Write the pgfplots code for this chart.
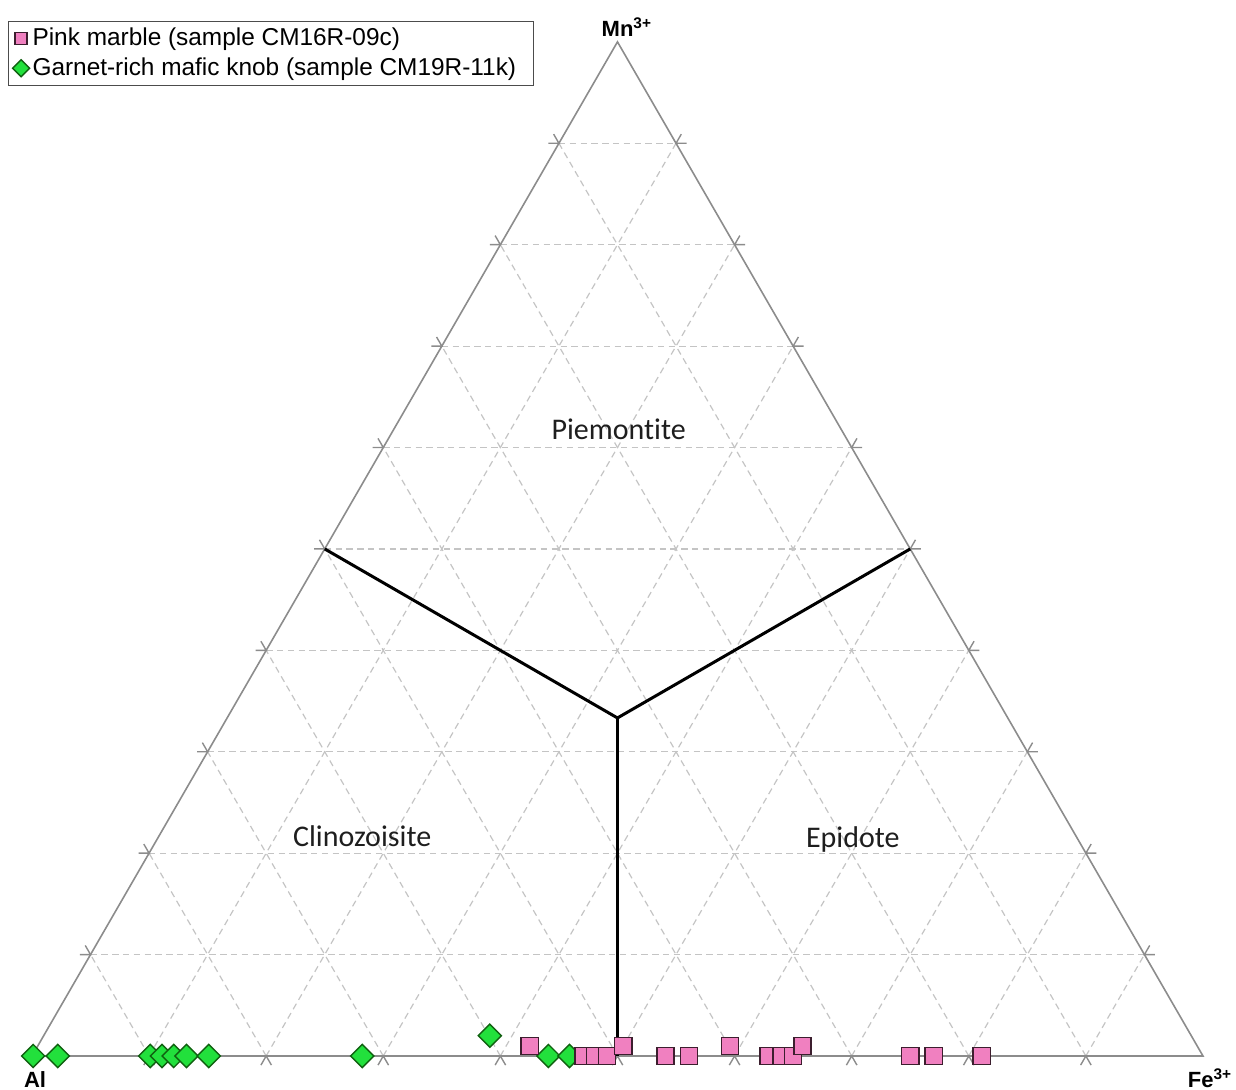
\documentclass[border=0pt]{standalone}
\usepackage{pgfplots}
\pgfplotsset{compat=1.18}
\usepackage{pgfplotstable}
\usepackage{fontspec}
\setmainfont{Liberation Sans}
\newfontfamily\calibri[Ligatures=NoCommon]{Carlito}

\definecolor{pinkfill}{RGB}{240,128,192}
\definecolor{pinkedge}{RGB}{60,30,46}
\definecolor{greenfill}{RGB}{34,224,60}
\definecolor{greenedge}{RGB}{16,96,16}
\definecolor{edgegray}{RGB}{140,140,140}
\definecolor{gridgray}{RGB}{196,196,196}
\definecolor{labelgray}{RGB}{30,30,30}

\tikzset{
  gridline/.style={gridgray, line width=0.6pt, dash pattern=on 3.2pt off 2.2pt},
  tickline/.style={edgegray, line width=0.7pt},
  fieldname/.style={font=\calibri\fontsize{15}{17}\selectfont, text=labelgray},
  apexname/.style={font=\bfseries\fontsize{11}{12}\selectfont, anchor=base, inner sep=0pt},
}

% Epidote-group compositions as Fe3+ and Mn3+ fractions (Al = 1 - Fe - Mn)
\pgfplotstableread{
Fe    Mn
0.420 0.010
0.471 0.000
0.481 0.000
0.491 0.000
0.500 0.010
0.541 0.000
0.561 0.000
0.591 0.010
0.629 0.000
0.640 0.000
0.650 0.000
0.653 0.010
0.750 0.000
0.770 0.000
0.811 0.000
}\pinkmarble

\pgfplotstableread{
Fe    Mn
0.001 0.000
0.022 0.000
0.101 0.000
0.111 0.000
0.121 0.000
0.132 0.000
0.151 0.000
0.282 0.000
0.381 0.020
0.441 0.000
0.459 0.000
}\mafickob

\begin{document}
\begin{tikzpicture}
\begin{axis}[
  x=585.5pt, y=585.5pt,
  xmin=-0.0273, xmax=1.0282, ymin=-0.029, ymax=0.9018,
  hide axis, clip=false,
  reverse legend,
  legend style={
    at={(axis cs:-0.0205,0.884)}, anchor=north west,
    draw=black!70, line width=0.6pt,
    font=\fontsize{12.2}{14.5}\selectfont,
    inner xsep=2pt, inner ysep=1pt,
    nodes={inner xsep=1.5pt, inner ysep=2.3pt},
    row sep=0pt,
  },
  legend cell align=left,
  legend image code/.code={%
    \draw[mark repeat=1,#1,mark size=3pt] plot coordinates {(0pt,0pt)};},
]

% dashed composition grid every 10 %
\pgfplotsinvokeforeach{1,2,3,4,5,6,7,8,9}{
  \draw[gridline] (axis cs:{#1*0.05},{#1*0.0866025}) -- (axis cs:{1-#1*0.05},{#1*0.0866025});
  \draw[gridline] (axis cs:{#1*0.1},0) -- (axis cs:{0.5+#1*0.05},{(10-#1)*0.0866025});
  \draw[gridline] (axis cs:{1-#1*0.1},0) -- (axis cs:{0.5-#1*0.05},{(10-#1)*0.0866025});
  % short outward ticks on the three sides
  \draw[tickline] (axis cs:{#1*0.1-0.0045},-0.0078) -- (axis cs:{#1*0.1},0) -- (axis cs:{#1*0.1+0.0045},-0.0078);
  \draw[tickline] (axis cs:{#1*0.05-0.009},{#1*0.0866025}) -- (axis cs:{#1*0.05},{#1*0.0866025}) -- (axis cs:{#1*0.05-0.0045},{#1*0.0866025+0.0078});
  \draw[tickline] (axis cs:{1-#1*0.05+0.009},{#1*0.0866025}) -- (axis cs:{1-#1*0.05},{#1*0.0866025}) -- (axis cs:{1-#1*0.05+0.0045},{#1*0.0866025+0.0078});
}

% triangle outline
\draw[edgegray, line width=0.8pt] (axis cs:0,0) -- (axis cs:1,0) -- (axis cs:0.5,0.8660254) -- cycle;

% field boundaries
\addplot[black, line width=1.5pt, forget plot] coordinates {(0.25,0.4330127) (0.5,0.2886751) (0.75,0.4330127)};
\addplot[black, line width=1.5pt, forget plot] coordinates {(0.5,0.2886751) (0.5,0)};

% field names
\node[fieldname] at (axis cs:0.501,0.535) {Piemontite};
\node[fieldname] at (axis cs:0.282,0.188) {Clinozoisite};
\node[fieldname] at (axis cs:0.701,0.1845) {Epidote};

% apex labels
\node[apexname] at (axis cs:0.508,0.871) {Mn\textsuperscript{3+}};
\node[apexname] at (axis cs:0.0026,-0.0265) {Al};
\node[apexname] at (axis cs:1.006,-0.0265) {Fe\textsuperscript{3+}};

% samples
\addplot[only marks, mark=square*, mark size=4.1pt,
  mark options={rotate=45, fill=greenfill, draw=greenedge, line width=0.7pt}]
  table[x expr=\thisrow{Fe}+0.5*\thisrow{Mn}, y expr=0.8660254*\thisrow{Mn}] {\mafickob};
\addlegendentry{Garnet-rich mafic knob (sample CM19R-11k)\hspace*{5pt}}

\addplot[only marks, mark=square*, mark size=4.3pt,
  mark options={fill=pinkfill, draw=pinkedge, line width=0.7pt}]
  table[x expr=\thisrow{Fe}+0.5*\thisrow{Mn}, y expr=0.8660254*\thisrow{Mn}] {\pinkmarble};
\addlegendentry{Pink marble (sample CM16R-09c)}

\coordinate (bbsw) at (axis cs:-0.0273,-0.029);
\coordinate (bbne) at (axis cs:1.0282,0.9018);
\end{axis}
\pgfresetboundingbox
\path[use as bounding box] (bbsw) rectangle (bbne);
\end{tikzpicture}
\end{document}
